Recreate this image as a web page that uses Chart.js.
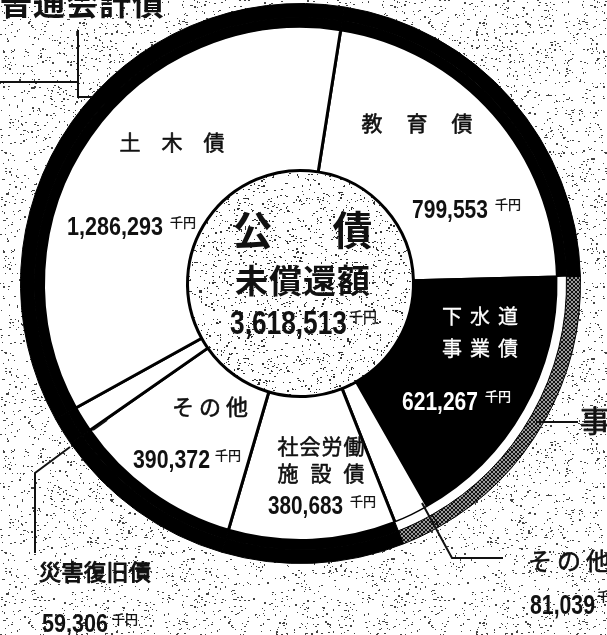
<!DOCTYPE html>
<html>
<head>
<meta charset="utf-8">
<script src="https://cdn.jsdelivr.net/npm/chart.js@4.4.0/dist/chart.umd.min.js"></script>
<style>
  html, body { margin: 0; padding: 0; background: #fff; }
  #c { display: block; }
</style>
</head>
<body>
<canvas id="c" width="607" height="635"></canvas>
<script>
// data, clockwise from the top
const categories = ['教育債', '下水道事業債', 'その他', '社会労働施設債', 'その他', '災害復旧債', '土木債'];
const values = [799553, 621267, 81039, 380683, 390372, 59306, 1286293];
const accounts = ['普通会計債', '事業会計債', '事業会計債', '普通会計債', '普通会計債', '普通会計債', '普通会計債'];
const unit = '千円';
const centerTitle = ['公債', '未償還額'];

const JP = '"Noto Sans CJK JP", "Noto Sans CJK SC", sans-serif';
const NUM = '"Liberation Sans", Arial, sans-serif';
const fmt = v => v.toLocaleString('en-US');
const total = values.reduce((a, b) => a + b, 0);

// deterministic stipple texture (scan look)
function stipple(size, count, color, seed) {
  const c = document.createElement('canvas');
  c.width = c.height = size;
  const g = c.getContext('2d');
  g.fillStyle = '#fff';
  g.fillRect(0, 0, size, size);
  g.fillStyle = color;
  let s = seed >>> 0;
  const rnd = () => { s = (Math.imul(s, 1664525) + 1013904223) >>> 0; return s / 4294967296; };
  for (let k = 0; k < count; k++) {
    g.fillRect(Math.floor(rnd() * size), Math.floor(rnd() * size), rnd() < 0.4 ? 2 : 1, rnd() < 0.2 ? 2 : 1);
  }
  return g.createPattern(c, 'repeat');
}
function hatch() {
  const c = document.createElement('canvas');
  c.width = c.height = 4;
  const g = c.getContext('2d');
  g.fillStyle = '#9a9a9a';
  g.fillRect(0, 0, 4, 4);
  g.fillStyle = '#111';
  for (let i = 0; i < 4; i++) { g.fillRect(i, i, 1, 1); g.fillRect(3 - i, i, 1, 1); }
  return g.createPattern(c, 'repeat');
}
const bgPattern = stipple(200, 1250, '#444', 7);
const hubPattern = stipple(160, 1000, '#333', 91);
const hatchPattern = hatch();

// text helper: per-char spacing, optional fit-to-width, optional faux-medium stroke
function txt(ctx, s, x, y, o) {
  ctx.save();
  ctx.font = `${o.weight || 'normal'} ${o.size}px ${o.family || JP}`;
  ctx.fillStyle = ctx.strokeStyle = o.color || '#111';
  ctx.lineWidth = o.stroke || 0;
  ctx.lineJoin = 'round';
  ctx.textBaseline = 'middle';
  const chars = [...s];
  const gap = o.gap || 0;
  const w = chars.map(ch => ctx.measureText(ch).width);
  const tw = w.reduce((a, b) => a + b, 0) + gap * (chars.length - 1);
  const sx = o.width ? o.width / tw : 1;
  const x0 = o.align === 'center' ? x - tw * sx / 2 : x;
  ctx.translate(x0, y);
  ctx.scale(sx, 1);
  let cx = 0;
  chars.forEach((ch, i) => {
    ctx.fillText(ch, cx, 0);
    if (o.stroke) ctx.strokeText(ch, cx, 0);
    cx += w[i] + gap;
  });
  ctx.restore();
}

// label placement for each category (index matches data arrays)
const labelLayout = [
  { lines: [['教育債', 417, 123, 21, 24]], val: [412, 211, 76, 26], u: [495, 204] },
  { lines: [['下水道', 480, 316, 20, 8], ['事業債', 480, 348, 20, 8]], val: [402, 403, 76, 25], u: [485, 396], color: '#fff', stroke: 0.3 },
  { lines: [['その他', 569, 561, 24, 5]], val: [530, 607, 65, 27], u: [597, 596] },
  { lines: [['社会労働', 321, 446, 21, 1], ['施設債', 321, 473, 21, 12]], val: [268, 507, 75, 25], u: [350, 501] },
  { lines: [['その他', 210, 407, 22, 5]], val: [133, 461, 77, 25], u: [215, 455] },
  { lines: [['災害復旧債', 95, 572, 22, 0.5]], val: [42, 625, 66, 25], u: [112, 619], stroke: 1.1 },
  { lines: [['土木債', 172, 142, 21, 21]], val: [67, 228, 96, 26], u: [170, 222] }
];

const decor = {
  id: 'decor',
  beforeDraw(chart) {
    const ctx = chart.ctx;
    ctx.save();
    ctx.fillStyle = bgPattern;
    ctx.fillRect(0, 0, chart.width, chart.height);
    ctx.restore();
  },
  beforeDatasetsDraw(chart) {
    const arc = chart.getDatasetMeta(2).data[0];
    const ctx = chart.ctx;
    ctx.save();
    ctx.beginPath();
    ctx.arc(arc.x, arc.y, arc.innerRadius, 0, Math.PI * 2);
    ctx.fillStyle = hubPattern;
    ctx.fill();
    ctx.restore();
  },
  afterDraw(chart) {
    const ctx = chart.ctx;
    const arc = chart.getDatasetMeta(2).data[0];
    // leader lines
    ctx.save();
    ctx.strokeStyle = '#111';
    ctx.lineWidth = 2;
    const path = pts => { ctx.beginPath(); ctx.moveTo(pts[0][0], pts[0][1]); pts.slice(1).forEach(p => ctx.lineTo(p[0], p[1])); ctx.stroke(); };
    path([[0, 82], [78, 82]]);
    path([[78, 30], [78, 97], [92, 97]]);
    path([[536, 422], [578, 422]]);
    path([[422, 503], [452, 558], [503, 558]]);
    path([[107, 420], [93, 430]]);
    path([[70, 447], [35, 473], [35, 553]]);
    ctx.restore();

    // account group labels
    txt(ctx, accounts[0], 0, 3, { size: 32, weight: 'bold', gap: 1 });
    txt(ctx, accounts[1], 580, 421, { size: 30, stroke: 0.8 });

    // category labels
    labelLayout.forEach((L, i) => {
      const color = L.color || '#111';
      const stroke = L.stroke != null ? L.stroke : 0.6;
      L.lines.forEach(([s, x, y, size, gap]) => txt(ctx, s, x, y, { size, gap, align: 'center', color, stroke }));
      txt(ctx, fmt(values[i]), L.val[0], L.val[1], { size: L.val[3], width: L.val[2], weight: 'bold', family: NUM, color });
      txt(ctx, unit, L.u[0], L.u[1], { size: 13, color, stroke: 0.3 });
    });

    // centre
    txt(ctx, centerTitle[0], arc.x + 2, 230, { size: 40, weight: 'bold', gap: 60, align: 'center' });
    txt(ctx, centerTitle[1], arc.x + 2, 280, { size: 33, weight: 'bold', gap: 1, align: 'center' });
    txt(ctx, fmt(total), 230, 325, { size: 33, width: 117, weight: 'bold', family: NUM });
    txt(ctx, unit, 349, 317, { size: 14, stroke: 0.3 });
  }
};

const isBiz = a => a === accounts[1];

new Chart(document.getElementById('c'), {
  type: 'doughnut',
  data: {
    labels: categories,
    datasets: [
      {
        data: values,
        backgroundColor: accounts.map(a => isBiz(a) ? hatchPattern : '#000'),
        borderColor: '#000',
        borderWidth: 1,
        weight: 14
      },
      {
        data: values,
        backgroundColor: accounts.map(a => isBiz(a) ? '#fff' : '#000'),
        borderColor: accounts.map(a => isBiz(a) ? '#fff' : '#000'),
        borderWidth: accounts.map(a => isBiz(a) ? 0 : 1),
        weight: 9
      },
      {
        data: values,
        backgroundColor: categories.map(c => c === '下水道事業債' ? '#000' : '#fff'),
        borderColor: '#000',
        borderWidth: 3,
        weight: 144
      }
    ]
  },
  options: {
    responsive: false,
    animation: false,
    devicePixelRatio: 1,
    events: [],
    rotation: 9,
    cutout: 113,
    layout: { padding: { left: 20, right: 26, top: 3, bottom: 71 } },
    plugins: {
      legend: { display: false },
      tooltip: { enabled: false }
    }
  },
  plugins: [decor]
});
</script>
</body>
</html>
